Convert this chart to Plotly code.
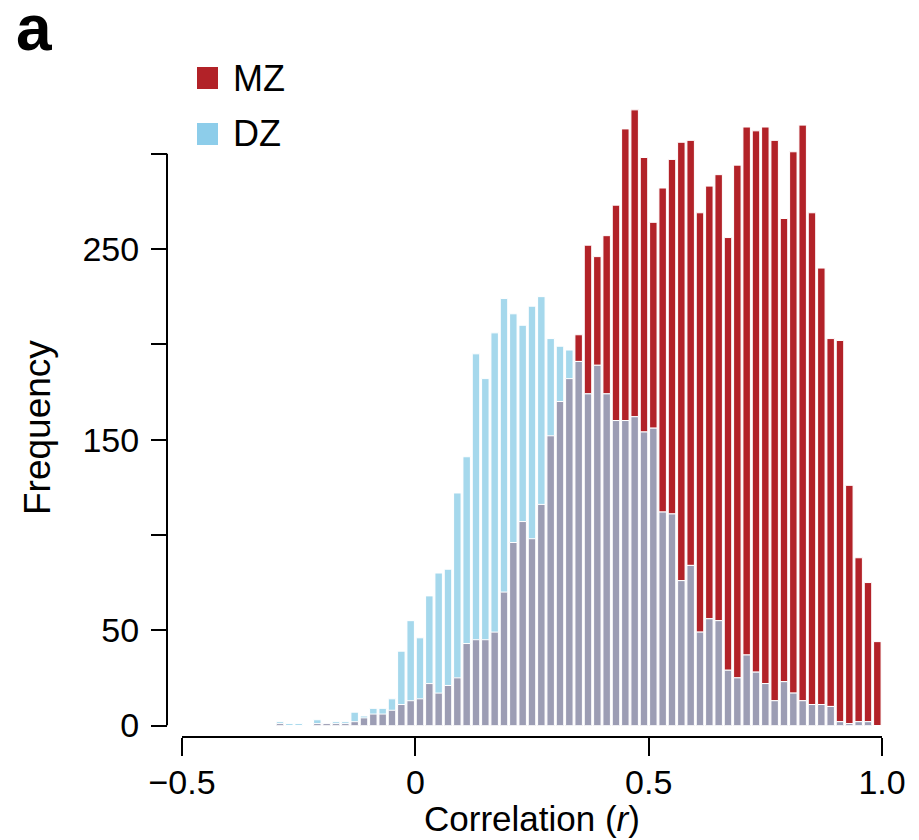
import plotly.graph_objects as go
import numpy as np

# ---------------- data ----------------
bin_centers = [-0.29, -0.27, -0.25, -0.23, -0.21, -0.19, -0.17, -0.15, -0.13, -0.11,
               -0.09, -0.07, -0.05, -0.03, -0.01, 0.01, 0.03, 0.05, 0.07, 0.09,
               0.11, 0.13, 0.15, 0.17, 0.19, 0.21, 0.23, 0.25, 0.27, 0.29,
               0.31, 0.33, 0.35, 0.37, 0.39, 0.41, 0.43, 0.45, 0.47, 0.49,
               0.51, 0.53, 0.55, 0.57, 0.59, 0.61, 0.63, 0.65, 0.67, 0.69,
               0.71, 0.73, 0.75, 0.77, 0.79, 0.81, 0.83, 0.85, 0.87, 0.89,
               0.91, 0.93, 0.95, 0.97, 0.99]

mz_counts = [1, 0, 0, 0, 1, 1, 1, 1, 2, 4,
             6, 6, 8, 11, 13, 14, 22, 17, 21, 25,
             43, 45, 45, 49, 70, 96, 107, 98, 116, 152,
             170, 182, 205, 252, 246, 257, 273, 313, 323, 298,
             264, 282, 297, 306, 307, 269, 283, 289, 256, 294,
             314, 312, 314, 307, 266, 301, 315, 269, 240, 203,
             202, 126, 88, 75, 44]

dz_counts = [2, 1, 1, 0, 3, 1, 2, 2, 7, 5,
             9, 9, 14, 39, 55, 46, 68, 80, 82, 122,
             141, 195, 182, 206, 224, 216, 210, 220, 225, 203,
             199, 197, 191, 174, 189, 174, 160, 160, 162, 154,
             156, 112, 111, 76, 84, 49, 56, 55, 29, 25,
             37, 28, 22, 13, 23, 17, 13, 11, 11, 10,
             2, 1, 2, 2, 0]

series_names = ["MZ", "DZ"]
x_tickvals = [-0.5, 0, 0.5, 1.0]
x_ticktext = ["\u22120.5", "0", "0.5", "1.0"]
y_tickvals = [0, 50, 100, 150, 200, 250, 300]
y_ticktext = ["0", "50", "", "150", "", "250", ""]
x_title = "Correlation (<i>r</i>)"
y_title = "Frequency"
panel_label = "a"

overlap_counts = np.minimum(np.array(mz_counts), np.array(dz_counts))

# ---------------- style ----------------
RED = "#B22228"
BLUE = "#A5D8EC"
LEGEND_BLUE = "#8DCDEA"
GRAY = "#9C9DB4"
FONT = "Liberation Sans, Arial, Helvetica, sans-serif"
W, H = 919, 840
ML, MR, MT, MB = 167, 37, 95, 103
PW = W - ML - MR
PH = H - MT - MB
ZERO_PX = 725.5
Y_TOP = (ZERO_PX - MT) / 1.906

bar_style = dict(width=0.016, marker_line=dict(color="white", width=1), opacity=1,
                 showlegend=False, hoverinfo="x+y")

fig = go.Figure()
fig.add_bar(x=bin_centers, y=mz_counts, marker_color=RED, name=series_names[0], **bar_style)
fig.add_bar(x=bin_centers, y=dz_counts, marker_color=BLUE, name=series_names[1], **bar_style)
fig.add_bar(x=bin_centers, y=overlap_counts, marker_color=GRAY, name="overlap", **bar_style)

fig.update_layout(
    width=W, height=H,
    margin=dict(l=ML, r=MR, t=MT, b=MB, pad=0),
    barmode="overlay",
    template="none",
    plot_bgcolor="white", paper_bgcolor="white",
    font=dict(family=FONT, size=35, color="black"),
    showlegend=False,
    xaxis=dict(
        domain=[15 / PW, 1], range=[-0.5, 1.0], anchor="free", position=0,
        showline=True, linewidth=2, linecolor="black",
        ticks="outside", ticklen=18, tickwidth=2, tickcolor="black",
        tickvals=x_tickvals, ticktext=x_ticktext,
        tickfont=dict(size=34), showgrid=False, zeroline=False,
        ticklabelstandoff=-3,
    ),
    yaxis=dict(
        domain=[(H - MB - ZERO_PX) / PH, 1], range=[0, Y_TOP], anchor="free", position=0,
        showline=False,
        ticks="outside", ticklen=16, tickwidth=2, tickcolor="black",
        tickvals=y_tickvals, ticktext=y_ticktext,
        tickfont=dict(size=34), showgrid=False, zeroline=False,
        ticklabelstandoff=5,
    ),
)

# y-axis line spanning 0..300
fig.add_shape(type="line", xref="paper", yref="y", x0=0, x1=0, y0=0, y1=300,
              line=dict(color="black", width=2))


def px_x(px):
    return (px - ML) / PW


def px_y(py):
    return (H - MB - py) / PH


# axis titles
fig.add_annotation(xref="paper", yref="paper", x=px_x(532), y=px_y(819),
                   text=x_title, showarrow=False, xanchor="center", yanchor="middle",
                   font=dict(size=35, family=FONT, color="black"))
fig.add_annotation(xref="paper", yref="paper", x=px_x(37), y=px_y(428),
                   text=y_title, showarrow=False, textangle=-90,
                   xanchor="center", yanchor="middle",
                   font=dict(size=37, family=FONT, color="black"))

# legend (squares + labels)
legend_items = [(series_names[0], RED, 78), (series_names[1], LEGEND_BLUE, 134)]
for name, col, cy in legend_items:
    fig.add_shape(type="rect", xref="paper", yref="paper",
                  x0=px_x(197), x1=px_x(218), y0=px_y(cy + 11), y1=px_y(cy - 11),
                  line=dict(width=0), fillcolor=col)
    fig.add_annotation(xref="paper", yref="paper", x=px_x(231), y=px_y(cy),
                       text=name, showarrow=False, xanchor="left", yanchor="middle",
                       font=dict(size=36, family=FONT, color="black"))

# panel label
fig.add_annotation(xref="paper", yref="paper", x=px_x(14), y=px_y(28),
                   text="<b>%s</b>" % panel_label, showarrow=False,
                   xanchor="left", yanchor="middle",
                   font=dict(size=64, family=FONT, color="black"))

fig.write_html("out.html")
